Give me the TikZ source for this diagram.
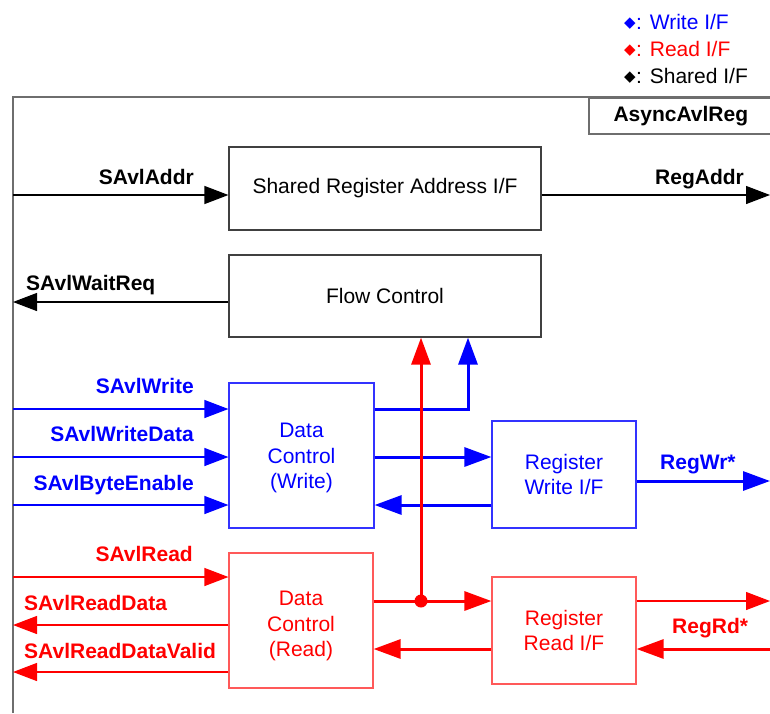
\documentclass[tikz,border=0pt]{standalone}
\usepackage{fontspec}
\setmainfont{Liberation Sans}
\newfontfamily\symfont{DejaVu Sans}
\usetikzlibrary{arrows.meta,calc}
\definecolor{wcol}{RGB}{0,0,255}
\definecolor{rcol}{RGB}{255,0,0}
\definecolor{frm}{RGB}{110,110,110}
\newcommand{\dmd}{\raisebox{2pt}{\symfont\fontsize{15}{15}\selectfont ◆}\hspace{0.5pt}}
\tikzset{
    blk/.style =    {rectangle,
                    fill=white,
                    draw=black!75,
                    text=black,
                    line width=1.2pt,
                    align=center,
                    inner sep=2pt},
    wblk/.style =   {blk,
                    draw=wcol!80,
                    text=wcol},
    rblk/.style =   {blk,
                    draw=rcol!65,
                    text=rcol},
    txt/.style =    {align=center,
                    inner sep=0pt},
    lbl/.style =    {font=\fontsize{21}{26}\selectfont\bfseries,
                    inner sep=0pt},
    leg/.style =    {inner sep=0pt,
                    anchor=base west},
    -,
    sig/.style =    {line width=1.2pt,
                    -{Triangle[length=24pt,width=18pt]}},
    bus/.style =    {line width=3pt,
                    -{Triangle[length=27pt,width=19pt]}}}

\begin{document}
\begin{tikzpicture}[x=1pt,y=-1pt,font=\fontsize{21}{25.5}\selectfont]
        \useasboundingbox (0,0) rectangle (770,713);
        % legend
        \node[leg,text=wcol]  (lgw) at (624,29) {\dmd: Write I/F};
        \node[leg,text=rcol]  (lgr) at (624,56) {\dmd: Read I/F};
        \node[leg,text=black] (lgs) at (624,83) {\dmd: Shared I/F};
        % frame
        \draw[frm,line width=2pt] (13,713) -- (13,97) -- (775,97);
        \node[blk,draw=frm,line width=1.6pt,anchor=north west,minimum width=190,minimum height=36,font=\fontsize{21}{26}\selectfont\bfseries]
                (top) at (588,97) {\hspace*{-2pt}AsyncAvlReg\hspace*{4pt}};
        % blocks
        \node[blk,minimum width=312,minimum height=83]  (shared) at (385,188.5) {Shared Register Address I/F};
        \node[blk,minimum width=312,minimum height=82]  (flow)   at (385,296)   {Flow Control};
        \node[wblk,minimum width=145,minimum height=145] (dcw)   at (301.5,455.5) {};
        \node[txt,text=wcol] (dcwT) at (301.5,458) {Data\\Control\\(Write)};
        \node[rblk,minimum width=144,minimum height=135] (dcr)   at (301,620.5) {};
        \node[txt,text=rcol] (dcrT) at (301,626) {Data\\Control\\(Read)};
        \node[wblk,minimum width=144,minimum height=107] (rwif)  at (564,474.5) {Register\\Write I/F};
        \node[rblk,minimum width=144,minimum height=107] (rrif)  at (564,630.5) {Register\\Read I/F};
        % free ends
        \coordinate (addrIn)   at (13,195);
        \coordinate (addrOut)  at (770,195);
        \coordinate (waitOut)  at (13,302);
        \coordinate (wrIn)     at (13,409);
        \coordinate (wdIn)     at (13,457);
        \coordinate (beIn)     at (13,505);
        \coordinate (rdIn)     at (13,577);
        \coordinate (rdOut)    at (13,625);
        \coordinate (rdvOut)   at (13,672);
        \coordinate (regwr)    at (770,481);
        \coordinate (regrdO)   at (770,601);
        \coordinate (regrdI)   at (770,649);
        \coordinate (wfc)      at (468,409);
        \coordinate (dot)      at (421,601);
        % shared
        \draw[sig,black] (addrIn) -- (addrIn -| shared.west);
        \draw[sig,black] (addrOut -| shared.east) -- (addrOut);
        \draw[sig,black] (waitOut -| flow.west) -- (waitOut);
        % write side
        \draw[sig,wcol] (wrIn) -- (wrIn -| dcw.west);
        \draw[sig,wcol] (wdIn) -- (wdIn -| dcw.west);
        \draw[sig,wcol] (beIn) -- (beIn -| dcw.west);
        \draw[bus,wcol] (wfc -| dcw.east) -- (wfc) -- (wfc |- flow.south);
        \draw[bus,wcol] (dcw.east |- wdIn) -- (rwif.west |- wdIn);
        \draw[bus,wcol] (rwif.west |- beIn) -- (dcw.east |- beIn);
        \draw[bus,wcol] (regwr -| rwif.east) -- (regwr);
        % read side
        \draw[sig,rcol] (rdIn) -- (rdIn -| dcr.west);
        \draw[sig,rcol] (rdOut -| dcr.west) -- (rdOut);
        \draw[sig,rcol] (rdvOut -| dcr.west) -- (rdvOut);
        \draw[bus,rcol] (dcr.east |- dot) -- (rrif.west |- dot);
        \draw[bus,rcol] (dot) -- (dot |- flow.south);
        \fill[rcol] (dot) circle (6.5);
        \draw[bus,rcol] (rrif.west |- regrdI) -- (dcr.east |- regrdI);
        \draw[sig,rcol] (regrdO -| rrif.east) -- (regrdO);
        \draw[bus,rcol] (regrdI) -- (regrdI -| rrif.east);
        % labels
        \node[lbl,anchor=base east]           (lAddr)  at (194,184) {SAvlAddr};
        \node[lbl,anchor=base west]           (lRAddr) at (655,184) {RegAddr};
        \node[lbl,anchor=base west]           (lWait)  at (26,290)  {SAvlWaitReq};
        \node[lbl,anchor=base east,text=wcol] (lWr)    at (194,393) {SAvlWrite};
        \node[lbl,anchor=base east,text=wcol] (lWd)    at (194,441) {SAvlWriteData};
        \node[lbl,anchor=base east,text=wcol] (lBe)    at (194,490) {SAvlByteEnable};
        \node[lbl,anchor=base west,text=wcol] (lRWr)   at (660,469) {RegWr*};
        \node[lbl,anchor=base east,text=rcol] (lRd)    at (193,561) {SAvlRead};
        \node[lbl,anchor=base west,text=rcol] (lRdD)   at (24,610)  {SAvlReadData};
        \node[lbl,anchor=base west,text=rcol] (lRdV)   at (24,658)  {SAvlReadDataValid};
        \node[lbl,anchor=base west,text=rcol] (lRRd)   at (672,633) {RegRd*};
\end{tikzpicture}
\end{document}
